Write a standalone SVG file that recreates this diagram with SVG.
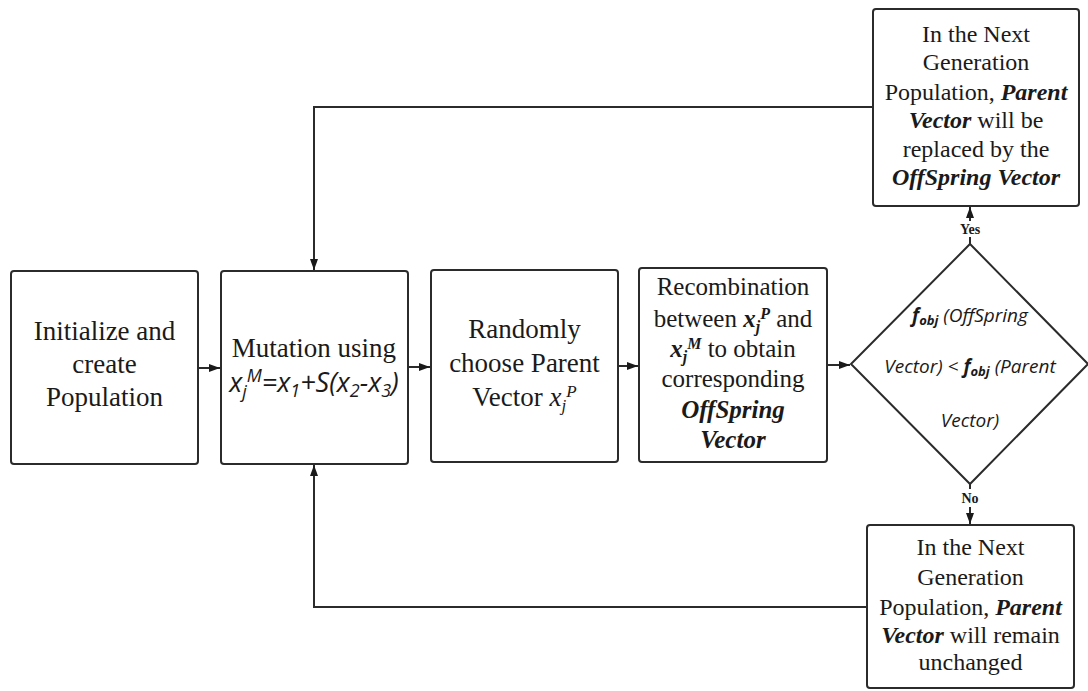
<svg xmlns="http://www.w3.org/2000/svg" width="1088" height="691" viewBox="0 0 1088 691">
  <style>
    .box { fill: #ffffff; stroke: #2b2b2b; stroke-width: 2; }
    .edge { fill: none; stroke: #2b2b2b; stroke-width: 2; }
    .serif { font-family: "Liberation Serif", "DejaVu Serif", serif; fill: #1a1a1a; text-anchor: middle; }
    .sans { font-family: "Open Sans", "DejaVu Sans", sans-serif; font-style: italic; fill: #1a1a1a; text-anchor: middle; }
    .bi { font-weight: bold; font-style: italic; }
    .it { font-style: italic; }
    .lbl { font-family: "Liberation Serif", serif; font-weight: bold; font-size: 14px; fill: #1a1a1a; text-anchor: middle; }
  </style>
  <defs>
    <marker id="arrow" viewBox="0 0 10 10" refX="10" refY="5" markerWidth="11" markerHeight="8" markerUnits="userSpaceOnUse" orient="auto" preserveAspectRatio="none">
      <path d="M0,0 L10,5 L0,10 z" fill="#1a1a1a"/>
    </marker>
  </defs>
  <rect width="1088" height="691" fill="#ffffff"/>

  <g id="connectors">
    <path class="edge" d="M198,368 H220" marker-end="url(#arrow)"/>
    <path class="edge" d="M408,367 H430" marker-end="url(#arrow)"/>
    <path class="edge" d="M618,366 H638" marker-end="url(#arrow)"/>
    <path class="edge" d="M827,365 H850" marker-end="url(#arrow)"/>
    <path class="edge" d="M970,244 V237"/>
    <path class="edge" d="M970,221 V207" marker-end="url(#arrow)"/>
    <path class="edge" d="M970,484 V489"/>
    <path class="edge" d="M970,507 V524" marker-end="url(#arrow)"/>
    <path class="edge" d="M873,107 H314 V270" marker-end="url(#arrow)"/>
    <path class="edge" d="M867,607 H314 V465" marker-end="url(#arrow)"/>
    <text class="lbl" x="970" y="234">Yes</text>
    <text class="lbl" x="970" y="503">No</text>
  </g>

  <g id="init">
    <rect class="box" x="11" y="271" width="187" height="193" rx="3"/>
    <text class="serif" font-size="27" x="104.5" y="340">Initialize and</text>
    <text class="serif" font-size="27" x="104.5" y="373">create</text>
    <text class="serif" font-size="27" x="104.5" y="406">Population</text>
  </g>

  <g id="mutation">
    <rect class="box" x="221" y="271" width="187" height="193" rx="3"/>
    <text class="serif" font-size="27" x="314" y="357">Mutation using</text>
    <text class="sans" font-size="27" x="314" y="392">x<tspan font-size="18" dy="6">j</tspan><tspan font-size="18" dy="-16">M</tspan><tspan dy="10">=x</tspan><tspan font-size="18" dy="5">1</tspan><tspan dy="-5">+S(x</tspan><tspan font-size="18" dy="5">2</tspan><tspan dy="-5">-x</tspan><tspan font-size="18" dy="5">3</tspan><tspan dy="-5">)</tspan></text>
  </g>

  <g id="choose-parent">
    <rect class="box" x="431" y="270" width="187" height="192" rx="3"/>
    <text class="serif" font-size="27" x="524.5" y="338">Randomly</text>
    <text class="serif" font-size="27" x="524.5" y="372">choose Parent</text>
    <text class="serif" font-size="27" x="524.5" y="406">Vector <tspan class="it">x</tspan><tspan class="it" font-size="17" dy="5">j</tspan><tspan class="it" font-size="17" dy="-14">P</tspan></text>
  </g>

  <g id="recombination">
    <rect class="box" x="639" y="268" width="188" height="194" rx="3"/>
    <text class="serif" font-size="25" x="733" y="295">Recombination</text>
    <text class="serif" font-size="25" x="733" y="327">between <tspan class="bi">x</tspan><tspan class="bi" font-size="16" dy="5">j</tspan><tspan class="bi" font-size="16" dy="-13">P</tspan><tspan dy="8"> and</tspan></text>
    <text class="serif" font-size="25" x="733" y="357"><tspan class="bi">x</tspan><tspan class="bi" font-size="16" dy="5">j</tspan><tspan class="bi" font-size="16" dy="-13">M</tspan><tspan dy="8"> to obtain</tspan></text>
    <text class="serif" font-size="25" x="733" y="387">corresponding</text>
    <text class="serif bi" font-size="25" x="733" y="418">OffSpring</text>
    <text class="serif bi" font-size="25" x="733" y="448">Vector</text>
  </g>

  <g id="decision">
    <path class="box" d="M970,244 L1088,364 L970,484 L851,364 Z"/>
    <text class="sans" font-size="19" x="970" y="322"><tspan font-weight="bold">f</tspan><tspan font-weight="bold" font-size="13" dy="3">obj</tspan><tspan dy="-3"> (OffSpring</tspan></text>
    <text class="sans" font-size="19" x="970" y="373">Vector) &lt; <tspan font-weight="bold">f</tspan><tspan font-weight="bold" font-size="13" dy="3">obj</tspan><tspan dy="-3"> (Parent</tspan></text>
    <text class="sans" font-size="19" x="970" y="427">Vector)</text>
  </g>

  <g id="replaced">
    <rect class="box" x="873" y="9" width="206" height="197" rx="3"/>
    <text class="serif" font-size="24" x="976" y="42">In the Next</text>
    <text class="serif" font-size="24" x="976" y="70">Generation</text>
    <text class="serif" font-size="24" x="976" y="100">Population, <tspan class="bi">Parent</tspan></text>
    <text class="serif" font-size="24" x="976" y="128"><tspan class="bi">Vector</tspan> will be</text>
    <text class="serif" font-size="24" x="976" y="157">replaced by the</text>
    <text class="serif bi" font-size="24" x="976" y="185">OffSpring Vector</text>
  </g>

  <g id="unchanged">
    <rect class="box" x="867" y="525" width="207" height="163" rx="3"/>
    <text class="serif" font-size="24" x="970.5" y="555">In the Next</text>
    <text class="serif" font-size="24" x="970.5" y="585">Generation</text>
    <text class="serif" font-size="24" x="970.5" y="615">Population, <tspan class="bi">Parent</tspan></text>
    <text class="serif" font-size="24" x="970.5" y="643"><tspan class="bi">Vector</tspan> will remain</text>
    <text class="serif" font-size="24" x="970.5" y="670">unchanged</text>
  </g>
</svg>
